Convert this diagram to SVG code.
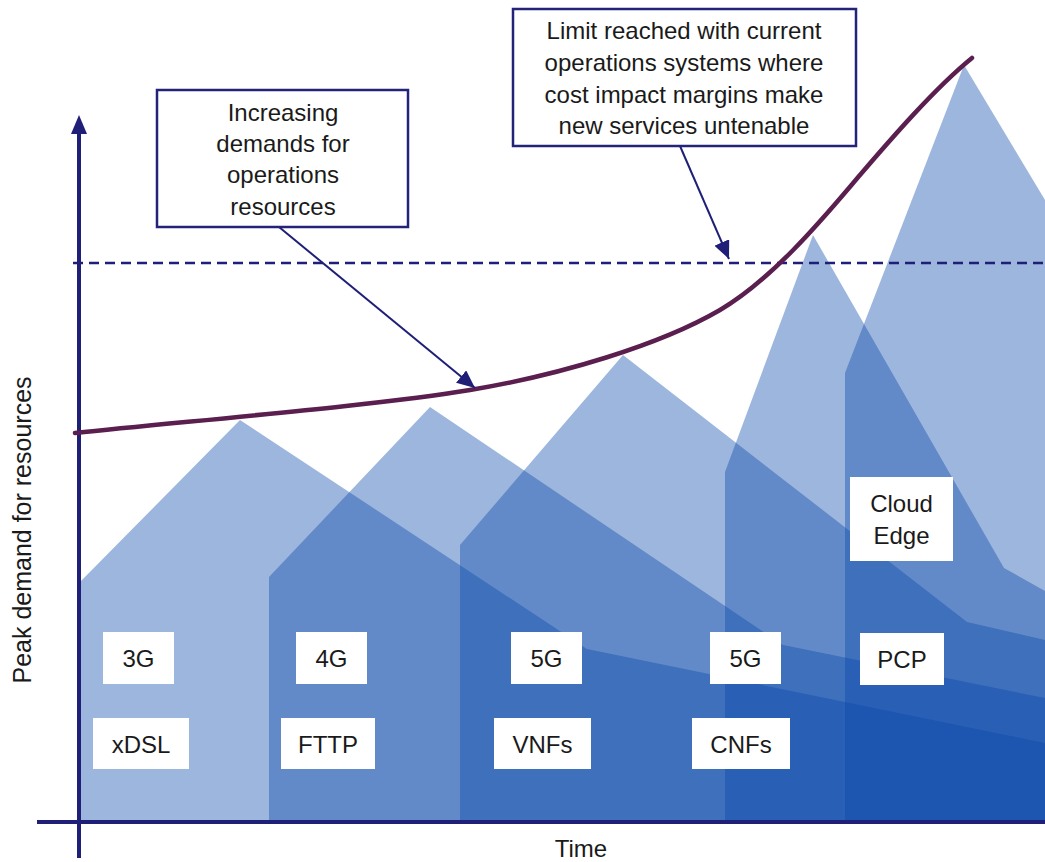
<svg xmlns="http://www.w3.org/2000/svg" width="1045" height="862" viewBox="0 0 1045 862">
<style>
  .band { fill: rgb(10,72,170); fill-opacity: 0.4; stroke: none; }
  .lbl { fill: #ffffff; stroke: none; }
  .txt { font-family: "Liberation Sans", Arial, sans-serif; font-size: 24px; fill: #1a1a1a; text-anchor: middle; }
  .callout { fill: #ffffff; stroke: #23237a; stroke-width: 2.5; }
  .axis { stroke: #1f1f78; stroke-width: 4; fill: none; }
  .conn { stroke: #1f1f78; stroke-width: 2; fill: none; }
</style>
<defs>
  <marker id="arr" markerUnits="userSpaceOnUse" markerWidth="20" markerHeight="16" viewBox="0 0 20 16" refX="18" refY="8" orient="auto">
    <path d="M0,0 L18,8 L0,16 Z" fill="#1f1f78"/>
  </marker>
</defs>
<rect x="0" y="0" width="1045" height="862" fill="#ffffff"/>

<g id="bands">
  <path id="band-xdsl" class="band" d="M80,822 V582 L240,420 L587,649 L1045,743 V822 Z"/>
  <path id="band-fttp" class="band" d="M269,822 V577 L430,407 L783,645 L1045,698 V822 Z"/>
  <path id="band-vnfs" class="band" d="M460,822 V545 L623,355 L967,622 L1045,640 V822 Z"/>
  <path id="band-cnfs" class="band" d="M725,822 V472 L813,235 L1004,568 L1045,591 V822 Z"/>
  <path id="band-edge" class="band" d="M845,822 V373 L964,65 L1045,200 V822 Z"/>
</g>

<g id="axes">
  <line class="axis" x1="79" y1="130" x2="79" y2="858"/>
  <polygon points="79,115 71,134 87,134" fill="#1f1f78"/>
  <line class="axis" x1="37" y1="822" x2="1045" y2="822"/>
  <text class="txt" x="581" y="857">Time</text>
  <text class="txt" style="font-size:25px" transform="translate(31,530) rotate(-90)" x="0" y="0">Peak demand for resources</text>
</g>

<line id="limit" x1="73" y1="263" x2="1045" y2="263" stroke="#1f1f78" stroke-width="2.5" stroke-dasharray="10 6"/>

<path id="demand-curve" d="M75,433 C200,420 380,405 470,390 C560,375 660,345 720,310 C775,278 830,210 860,175 C890,140 935,88 972,58" fill="none" stroke="#5a1f4e" stroke-width="4.5" stroke-linecap="round"/>

<g id="connectors">
  <line class="conn" x1="279" y1="227" x2="475" y2="388" marker-end="url(#arr)"/>
  <line class="conn" x1="680" y1="146" x2="729" y2="259" marker-end="url(#arr)"/>
</g>

<g id="callout-increasing">
  <rect class="callout" x="157" y="90" width="251" height="137"/>
  <text class="txt" x="283" y="121">Increasing</text>
  <text class="txt" x="283" y="152">demands for</text>
  <text class="txt" x="283" y="183">operations</text>
  <text class="txt" x="283" y="215">resources</text>
</g>

<g id="callout-limit">
  <rect class="callout" x="513" y="9" width="343" height="137"/>
  <text class="txt" x="684" y="39">Limit reached with current</text>
  <text class="txt" x="684" y="71">operations systems where</text>
  <text class="txt" x="684" y="103">cost impact margins make</text>
  <text class="txt" x="684" y="134">new services untenable</text>
</g>

<g id="label-3g"><rect class="lbl" x="103" y="632" width="71" height="52"/><text class="txt" x="138.5" y="667">3G</text></g>
<g id="label-xdsl"><rect class="lbl" x="93" y="718" width="96" height="51"/><text class="txt" x="141" y="753">xDSL</text></g>
<g id="label-4g"><rect class="lbl" x="296" y="632" width="71" height="52"/><text class="txt" x="331.5" y="667">4G</text></g>
<g id="label-fttp"><rect class="lbl" x="281" y="718" width="94" height="51"/><text class="txt" x="328" y="753">FTTP</text></g>
<g id="label-5g-a"><rect class="lbl" x="511" y="632" width="71" height="52"/><text class="txt" x="546.5" y="667">5G</text></g>
<g id="label-vnfs"><rect class="lbl" x="494" y="718" width="97" height="51"/><text class="txt" x="542.5" y="753">VNFs</text></g>
<g id="label-5g-b"><rect class="lbl" x="710" y="632" width="71" height="52"/><text class="txt" x="745.5" y="667">5G</text></g>
<g id="label-cnfs"><rect class="lbl" x="692" y="718" width="98" height="51"/><text class="txt" x="741" y="753">CNFs</text></g>
<g id="label-cloud-edge"><rect class="lbl" x="850" y="477" width="103" height="84"/><text class="txt" x="901.5" y="512">Cloud</text><text class="txt" x="901.5" y="544">Edge</text></g>
<g id="label-pcp"><rect class="lbl" x="860" y="633" width="84" height="52"/><text class="txt" x="902" y="668">PCP</text></g>
</svg>
